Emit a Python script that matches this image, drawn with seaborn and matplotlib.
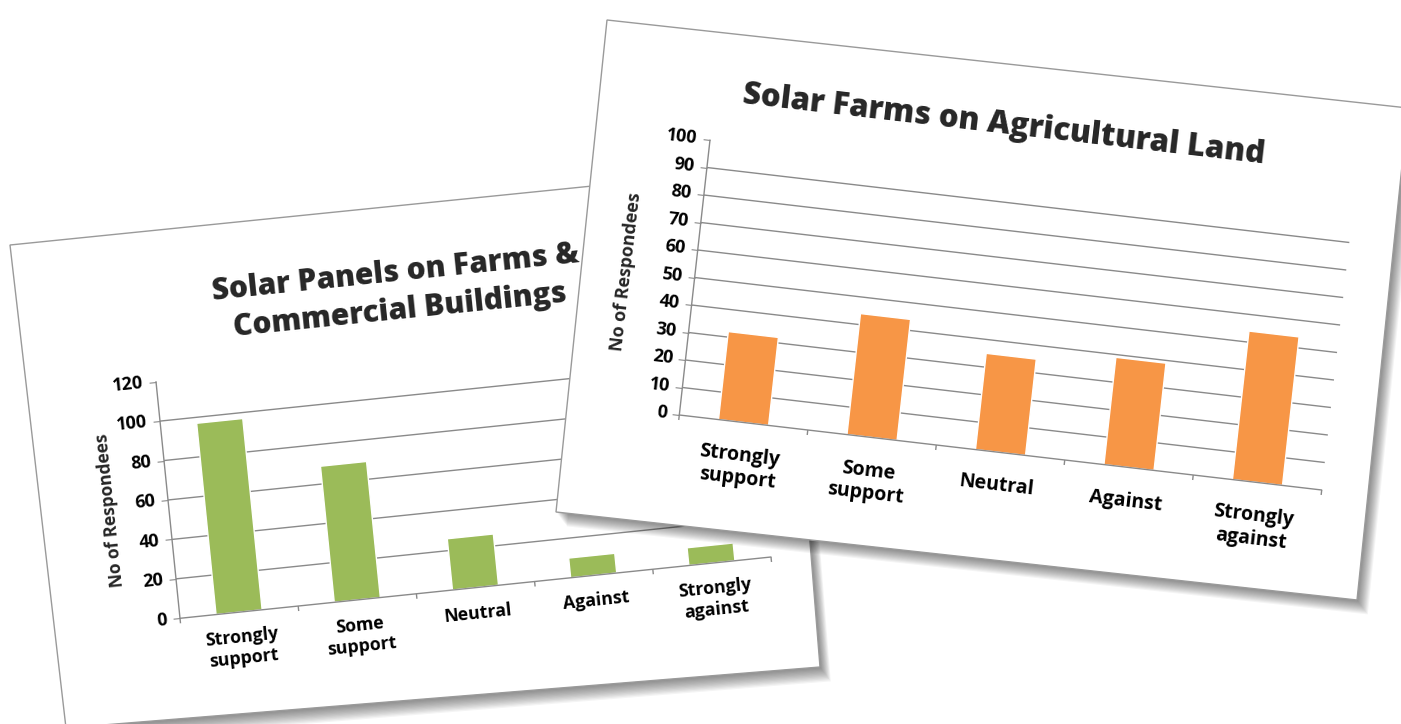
import numpy as np
import pandas as pd
import matplotlib
matplotlib.use("Agg")
import matplotlib.pyplot as plt
import seaborn as sns
from matplotlib.patches import Polygon
from matplotlib.transforms import Affine2D
from mpl_toolkits.axisartist import floating_axes
from mpl_toolkits.axisartist.grid_finder import FixedLocator, DictFormatter

# data
categories = ["Strongly\nsupport", "Some\nsupport", "Neutral", "Against", "Strongly\nagainst"]
panels_values = [97, 69, 26, 10, 9]
farms_values = [32, 44, 35, 39, 54]
panels_ticks = [0, 20, 40, 60, 80, 100, 120]
farms_ticks = [0, 10, 20, 30, 40, 50, 60, 70, 80, 90, 100]
panels_title = "Solar Panels on Farms &\nCommercial Buildings"
farms_title = "Solar Farms on Agricultural Land"
y_label = "No of Respondees"

W, H = 1401, 724
GRID = "#8a8a8a"

sns.set_style("white")
plt.rcParams["font.family"] = ["Open Sans", "DejaVu Sans"]

fig = plt.figure(figsize=(W / 100, H / 100), dpi=100)
fig.patch.set_facecolor("white")


def layer(z):
    lay = fig.add_axes([0, 0, 1, 1], zorder=z)
    lay.set_xlim(0, W)
    lay.set_ylim(H, 0)
    lay.axis("off")
    return lay


def card(lay, corners):
    pts = np.array(corners, float)
    for k in range(12, 0, -1):
        lay.add_patch(Polygon(pts + [k * 0.9, k * 1.2], closed=True,
                              fc="black", ec="none", alpha=0.045))
    lay.add_patch(Polygon(pts, closed=True, fc="white", ec="#9a9a9a", lw=1.0))


def chart(origin, ex, ey, values, ticks, color, z, fs, pad):
    # affine map: (category, value) -> figure pixels (y up)
    n = len(categories)
    ox, oy = origin
    tr = Affine2D(np.array([[ex[0], ey[0], ox + 0.5 * ex[0]],
                            [-ex[1], -ey[1], H - oy - 0.5 * ex[1]],
                            [0.0, 0.0, 1.0]]))
    ext = (-0.5, n - 0.5, 0, ticks[-1])
    cs = tr.transform([[ext[0], ext[2]], [ext[1], ext[2]],
                       [ext[1], ext[3]], [ext[0], ext[3]]])
    (x0, y0), (x1, y1) = cs.min(0), cs.max(0)
    cx, cy = (x0 + x1) / 2, (y0 + y1) / 2
    w, h = (x1 - x0) * 1.02, (y1 - y0) * 1.02

    gh = floating_axes.GridHelperCurveLinear(
        tr, extremes=ext,
        grid_locator1=FixedLocator(list(range(n))),
        tick_formatter1=DictFormatter(dict(enumerate(categories))),
        grid_locator2=FixedLocator(ticks),
        tick_formatter2=DictFormatter({t: str(t) for t in ticks}))
    ax = fig.add_axes([(cx - w / 2) / W, (cy - h / 2) / H, w / W, h / H],
                      axes_class=floating_axes.FloatingAxes, grid_helper=gh, zorder=z)
    ax.set_aspect("auto")
    ax.axis["top"].set_visible(False)
    ax.axis["right"].set_visible(False)
    for side in ("left", "bottom"):
        ax.axis[side].line.set_color(GRID)
        ax.axis[side].line.set_linewidth(1.0)
    ax.axis["left"].major_ticklabels.set(fontsize=13, fontweight="bold", color="black")
    ax.axis["bottom"].major_ticklabels.set(fontsize=fs, fontweight="bold", color="black")
    ax.axis["left"].major_ticks.set_ticksize(5)
    ax.axis["left"].major_ticks.set_color(GRID)
    ax.axis["left"].major_ticks.set_tick_out(True)
    ax.axis["left"].major_ticklabels.set_pad(4)
    ax.axis["bottom"].major_ticks.set_ticksize(0)
    ax.axis["bottom"].major_ticklabels.set_va("top")
    ax.axis["bottom"].major_ticklabels.set_pad(pad)
    ax.grid(True, axis="y", color=GRID, linewidth=1.0)
    ax.gridlines.set_zorder(0.5)

    aux = ax.get_aux_axes(tr)
    df = pd.DataFrame({"category": categories, "value": values})
    sns.barplot(data=df, x="category", y="value", ax=aux, color=color,
                width=0.39, saturation=1, errorbar=None)
    for p in aux.patches:
        p.set_zorder(2)
    # small tick marks between the categories, as Excel draws them
    tick_len = 5 / np.hypot(*ey)
    aux.vlines(np.arange(n + 1) - 0.5, -tick_len, 0, color=GRID, lw=1.0,
               clip_on=False, zorder=2.5)
    return ax


# left slide
lay0 = layer(0)
card(lay0, [(10, 245), (780, 167), (820, 667), (66, 728)])
lay0.text(398, 292, panels_title, rotation=5.9, ha="center", va="center",
          fontsize=21.5, fontweight="heavy", linespacing=1.35, rotation_mode="anchor")
lay0.text(110, 510, y_label, rotation=95.9, ha="center", va="center",
          fontsize=12.5, fontweight="bold", rotation_mode="anchor")
chart((180, 618.3), (118.2, -12.26), (-0.2, -1.972), panels_values, panels_ticks,
      "#9BBB59", 1, 12.8, 12)

# right slide
lay1 = layer(2)
card(lay1, [(607, 20), (1408, 108), (1357, 600), (556, 512)])
lay1.text(1004, 125, farms_title, rotation=-6.6, ha="center", va="center",
          fontsize=22.5, fontweight="heavy", rotation_mode="anchor")
lay1.text(626, 272, y_label, rotation=83.4, ha="center", va="center",
          fontsize=13, fontweight="bold", rotation_mode="anchor")
chart((679.3, 415), (128.48, 15.0), (0.307, -2.75), farms_values, farms_ticks,
      "#F79646", 3, 14, 17)

fig.savefig("out.png", dpi=100)
